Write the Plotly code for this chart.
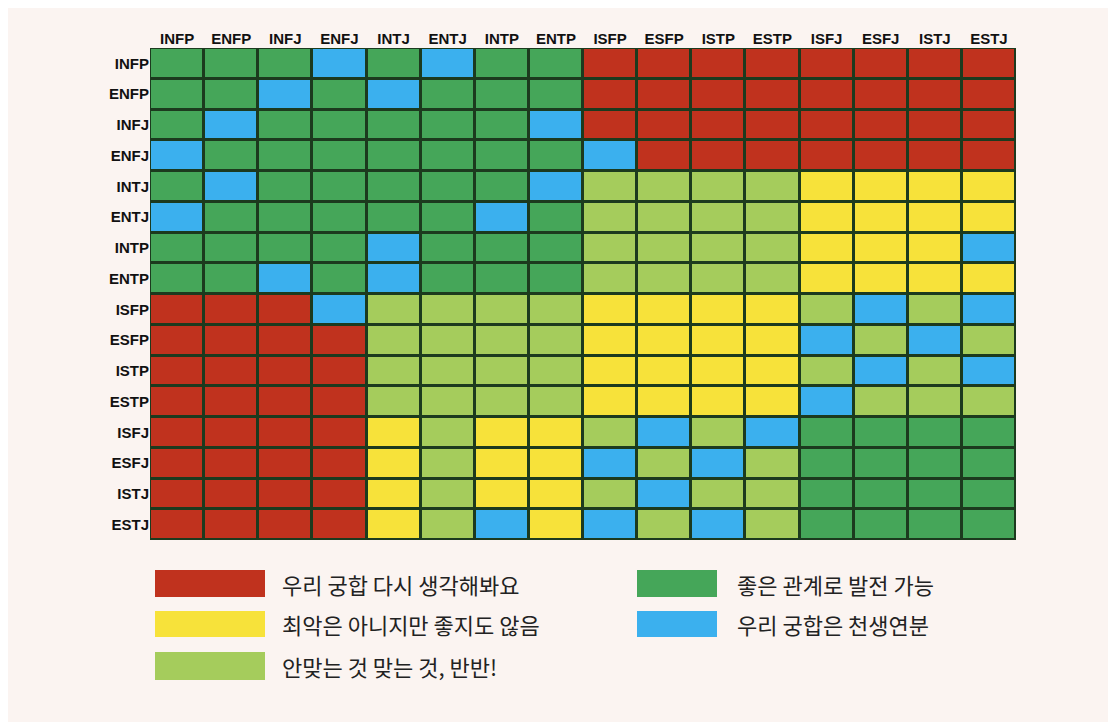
import plotly.graph_objects as go

types = ["INFP", "ENFP", "INFJ", "ENFJ", "INTJ", "ENTJ", "INTP", "ENTP",
         "ISFP", "ESFP", "ISTP", "ESTP", "ISFJ", "ESFJ", "ISTJ", "ESTJ"]

# 0 = red, 1 = yellow, 2 = light green, 3 = green, 4 = blue
rows = [
    "GGGBGBGGRRRRRRRR",
    "GGBGBGGGRRRRRRRR",
    "GBGGGGGBRRRRRRRR",
    "BGGGGGGGBRRRRRRR",
    "GBGGGGGBLLLLYYYY",
    "BGGGGGBGLLLLYYYY",
    "GGGGBGGGLLLLYYYB",
    "GGBGBGGGLLLLYYYY",
    "RRRBLLLLYYYYLBLB",
    "RRRRLLLLYYYYBLBL",
    "RRRRLLLLYYYYLBLB",
    "RRRRLLLLYYYYBLLL",
    "RRRRYLYYLBLBGGGG",
    "RRRRYLYYBLBLGGGG",
    "RRRRYLYYLBLLGGGG",
    "RRRRYLBYBLBLGGGG",
]
code = {"R": 0, "Y": 1, "L": 2, "G": 3, "B": 4}
z = [[code[c] for c in r] for r in rows]

colors = ["#c0321e", "#f7e23a", "#a5cc5c", "#45a659", "#3bb0ee"]
labels = ["우리 궁합 다시 생각해봐요", "최악은 아니지만 좋지도 않음", "안맞는 것 맞는 것, 반반!",
          "좋은 관계로 발전 가능", "우리 궁합은 천생연분"]

scale = []
for i, c in enumerate(colors):
    scale.append([i / 5, c])
    scale.append([(i + 1) / 5, c])

fig = go.Figure(go.Heatmap(
    z=z, x=types, y=types, zmin=-0.5, zmax=4.5, colorscale=scale,
    showscale=False, xgap=3, ygap=3,
))

W, H = 866, 492
def px(x):
    return (x - 150) / W
def py(y):
    return (540 - y) / H

# legend drawn as swatches + text
legend_pos = [(155, 265, 570, 597, 280), (155, 265, 611, 637, 280), (155, 265, 652, 680, 280),
              (637, 717, 570, 597, 735), (637, 717, 611, 637, 735)]
for (x0, x1, y0, y1, tx), c, lab in zip(legend_pos, colors, labels):
    fig.add_shape(type="rect", xref="paper", yref="paper", x0=px(x0), x1=px(x1),
                  y0=py(y1), y1=py(y0), fillcolor=c, line_width=0)
    fig.add_annotation(xref="paper", yref="paper", x=px(tx), y=py((y0 + y1) / 2),
                       text=lab, showarrow=False, xanchor="left", yanchor="middle",
                       font=dict(size=22, color="#222", family="Noto Sans CJK KR"))

tick_font = dict(size=15, color="#111", family="Liberation Sans Narrow, Arial Narrow, sans-serif")
fig.update_xaxes(side="top", showgrid=False, zeroline=False, ticks="", tickfont=tick_font,
                 tickprefix="<b>", ticksuffix="</b>")
fig.update_yaxes(autorange="reversed", showgrid=False, zeroline=False, ticks="", tickfont=tick_font,
                 tickprefix="<b>", ticksuffix="</b>")
fig.update_layout(
    width=1116, height=722,
    margin=dict(l=142, r=108, t=40, b=190),
    paper_bgcolor="#fbf4f1", plot_bgcolor="#1c3a1e",
)

fig.write_html("out.html")
